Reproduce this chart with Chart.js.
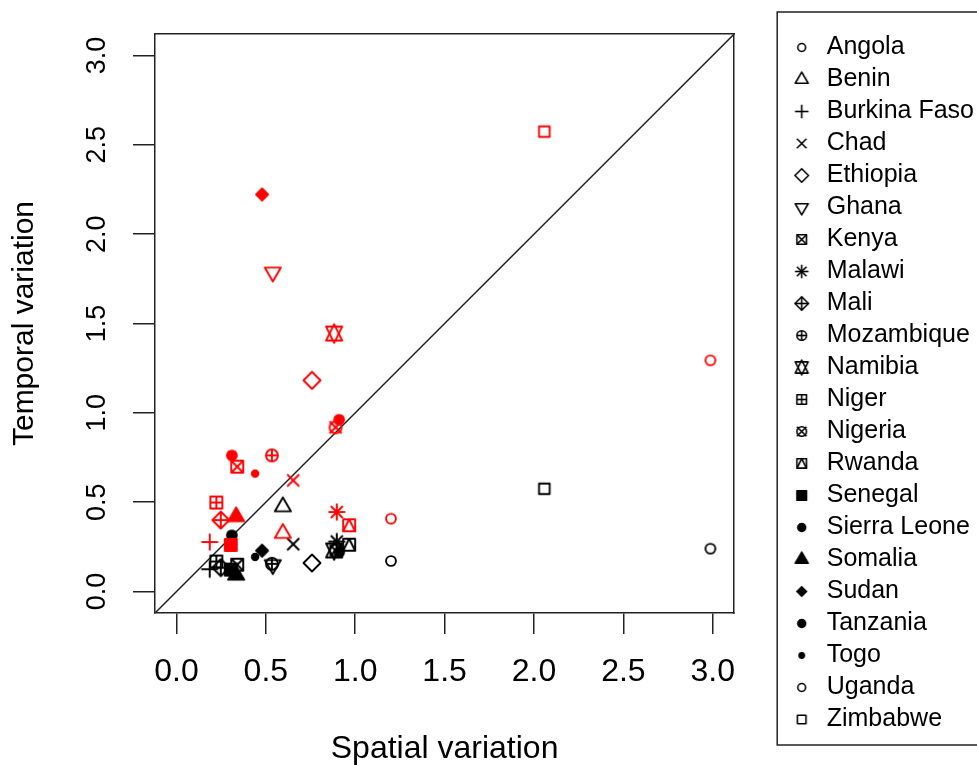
<!DOCTYPE html>
<html>
<head>
<meta charset="utf-8">
<script src="https://cdn.jsdelivr.net/npm/chart.js@4.4.1/dist/chart.umd.min.js"></script>
<style>
  html, body { margin: 0; padding: 0; background: #fff; overflow: hidden; }
  #wrap { width: 1000px; height: 765px; }
</style>
</head>
<body>
<div id="wrap"><canvas id="chart" width="1000" height="765"></canvas></div>
<script>
// values
const countries = ['Angola', 'Benin', 'Burkina Faso', 'Chad', 'Ethiopia', 'Ghana', 'Kenya', 'Malawi',
  'Mali', 'Mozambique', 'Namibia', 'Niger', 'Nigeria', 'Rwanda', 'Senegal', 'Sierra Leone',
  'Somalia', 'Sudan', 'Tanzania', 'Togo', 'Uganda', 'Zimbabwe'];
const spatial = [1.20, 0.595, 0.186, 0.653, 0.758, 0.539, 0.34, 0.897, 0.248, 0.534, 0.882,
  0.223, 0.89, 0.966, 0.304, 0.31, 0.334, 0.479, 0.91, 0.44, 2.987, 2.058];
const temporalRed = [0.408, 0.326, 0.277, 0.622, 1.182, 1.787, 0.699, 0.445, 0.400, 0.762, 1.444,
  0.498, 0.919, 0.371, 0.261, 0.762, 0.419, 2.222, 0.962, 0.660, 1.294, 2.574];
const temporalBlack = [0.171, 0.475, 0.125, 0.265, 0.160, 0.150, 0.150, 0.28, 0.134, 0.155, 0.23,
  0.168, 0.23, 0.262, 0.123, 0.315, 0.092, 0.229, 0.22, 0.194, 0.240, 0.575];
const axisTicks = [0, 0.5, 1, 1.5, 2, 2.5, 3];
const axisMin = -0.12, axisMax = 3.12;

const FONT = "'Liberation Sans', Arial, sans-serif";
const LINE = '#222';

// R plotting symbols (pch 1..22), one per country in legend order
const SQRC = 0.88622692545, TRC0 = 1.55512030155, TRC1 = TRC0 * Math.sqrt(3) / 2, TRC2 = TRC0 / 2;
function makeSymbol(pch, color, r, lw) {
  const size = Math.ceil(2 * (1.6 * r + lw)) + 2;
  const c = document.createElement('canvas');
  c.width = c.height = size;
  const g = c.getContext('2d');
  const m = size / 2;
  g.strokeStyle = color; g.fillStyle = color; g.lineWidth = lw; g.lineJoin = 'round';
  const line = (x1, y1, x2, y2) => { g.beginPath(); g.moveTo(m + x1, m + y1); g.lineTo(m + x2, m + y2); g.stroke(); };
  const poly = (pts, fill) => {
    g.beginPath();
    pts.forEach((p, i) => i ? g.lineTo(m + p[0], m + p[1]) : g.moveTo(m + p[0], m + p[1]));
    g.closePath(); if (fill) g.fill(); g.stroke();
  };
  const circ = (rad, fill) => { g.beginPath(); g.arc(m, m, rad, 0, Math.PI * 2); if (fill) g.fill(); g.stroke(); };
  const rect = (h, fill) => poly([[-h, -h], [h, -h], [h, h], [-h, h]], fill);
  const plus = a => { line(-a, 0, a, 0); line(0, -a, 0, a); };
  const cross = a => { line(-a, -a, a, a); line(-a, a, a, -a); };
  const triUp = fill => poly([[0, -TRC0 * r], [TRC1 * r, TRC2 * r], [-TRC1 * r, TRC2 * r]], fill);
  const triDown = fill => poly([[0, TRC0 * r], [TRC1 * r, -TRC2 * r], [-TRC1 * r, -TRC2 * r]], fill);
  const diamond = (a, fill) => poly([[0, -a], [a, 0], [0, a], [-a, 0]], fill);
  const cr = r * 0.82;
  switch (pch) {
    case 1: circ(cr); break;
    case 2: triUp(); break;
    case 3: plus(Math.SQRT2 * r); break;
    case 4: cross(r); break;
    case 5: diamond(Math.SQRT2 * r); break;
    case 6: triDown(); break;
    case 7: rect(r); cross(r); break;
    case 8: cross(r); plus(Math.SQRT2 * r); break;
    case 9: diamond(Math.SQRT2 * r); plus(Math.SQRT2 * r); break;
    case 10: circ(r); plus(r); break;
    case 11: {
      const yc = 0.5 * (TRC2 * r + TRC0 * r);
      poly([[0, -TRC0 * r], [TRC1 * r, yc], [-TRC1 * r, yc]]);
      poly([[0, TRC0 * r], [TRC1 * r, -yc], [-TRC1 * r, -yc]]);
      break;
    }
    case 12: rect(r); plus(r); break;
    case 13: circ(r); cross(r); break;
    case 14: rect(r); poly([[0, -r], [r, r], [-r, r]]); break;
    case 15: rect(r, true); break;
    case 16: circ(cr, true); break;
    case 17: triUp(true); break;
    case 18: diamond(r, true); break;
    case 19: circ(cr, true); break;
    case 20: circ(cr * 2 / 3, true); break;
    case 21: circ(cr); break;
    case 22: rect(r * SQRC); break;
  }
  return c;
}

const pchCodes = countries.map((_, i) => i + 1);
const redSymbols = pchCodes.map(p => makeSymbol(p, '#ff0000', 6, 1.9));
const blackSymbols = pchCodes.map(p => makeSymbol(p, '#000000', 6, 1.9));
const legendSymbols = pchCodes.map(p => makeSymbol(p, '#000000', 4.8, 1.6));

const datasets = countries.map((name, i) => ({
  label: name,
  data: [{ x: spatial[i], y: temporalBlack[i] }, { x: spatial[i], y: temporalRed[i] }],
  pointStyle: [blackSymbols[i], redSymbols[i]],
  pointRadius: 6,
  showLine: false
}));
datasets.push({
  type: 'line',
  label: 'diagonal',
  data: [{ x: axisMin, y: axisMin }, { x: axisMax, y: axisMax }],
  borderColor: LINE,
  borderWidth: 1.5,
  pointRadius: 0,
  fill: false
});

const legendFrame = {
  id: 'legendFrame',
  afterDraw(chart) {
    const lg = chart.legend;
    const hb = lg.legendHitBoxes;
    if (!hb || !hb.length) return;
    const last = hb[hb.length - 1];
    const top = hb[0].top - 23, bottom = last.top + last.height + 13;
    const ctx = chart.ctx;
    ctx.save();
    ctx.strokeStyle = LINE;
    ctx.lineWidth = 1.5;
    ctx.strokeRect(lg.left - 5, top, chart.width, bottom - top);
    ctx.restore();
  }
};

const setTicks = s => { s.ticks = axisTicks.map(v => ({ value: v })); };

new Chart(document.getElementById('chart'), {
  type: 'scatter',
  data: { datasets },
  options: {
    responsive: false,
    animation: false,
    devicePixelRatio: 1,
    layout: { padding: { top: 28, right: 16, bottom: 0, left: 0 } },
    plugins: {
      tooltip: { enabled: false },
      legend: {
        position: 'right',
        align: 'start',
        maxWidth: 400,
        labels: {
          usePointStyle: true,
          padding: 7,
          color: '#000',
          font: { family: FONT, size: 25 },
          generateLabels: () => countries.map((name, i) => ({
            text: name,
            pointStyle: legendSymbols[i],
            fillStyle: '#000',
            strokeStyle: '#000',
            lineWidth: 0,
            fontColor: '#000',
            hidden: false,
            datasetIndex: i
          }))
        }
      }
    },
    scales: {
      x: {
        type: 'linear', position: 'bottom', min: axisMin, max: axisMax,
        afterBuildTicks: setTicks,
        afterFit: s => { s.height = 152; },
        grid: { drawOnChartArea: false, tickLength: 21, color: LINE, lineWidth: 1.5 },
        border: { color: LINE, width: 1.5 },
        ticks: { padding: 19, color: '#000', font: { family: FONT, size: 32 }, maxRotation: 0,
          callback: v => v.toFixed(1) },
        title: { display: true, text: 'Spatial variation', color: '#000',
          font: { family: FONT, size: 32, lineHeight: 1 }, padding: { top: 0, bottom: 0 } }
      },
      y: {
        type: 'linear', position: 'left', min: axisMin, max: axisMax,
        afterBuildTicks: setTicks,
        afterFit: s => { s.width = 155; },
        grid: { drawOnChartArea: false, tickLength: 22, color: LINE, lineWidth: 1.5 },
        border: { color: LINE, width: 1.5 },
        ticks: { padding: 17, color: '#000', font: { family: FONT, size: 27 }, minRotation: 90, maxRotation: 90,
          crossAlign: 'center', callback: v => v.toFixed(1) },
        title: { display: true, text: 'Temporal variation', color: '#000',
          font: { family: FONT, size: 30, lineHeight: 1 }, padding: { top: 10, bottom: 0 } }
      },
      // empty axes closing the plot box on top and right
      x2: {
        type: 'linear', position: 'top', display: true, min: axisMin, max: axisMax,
        afterFit: s => { s.height = 6; },
        grid: { display: false, drawTicks: false },
        border: { color: LINE, width: 1.5 },
        ticks: { display: false }
      },
      y2: {
        type: 'linear', position: 'right', display: true, min: axisMin, max: axisMax,
        afterFit: s => { s.width = 48; },
        grid: { display: false, drawTicks: false },
        border: { color: LINE, width: 1.5 },
        ticks: { display: false }
      }
    }
  },
  plugins: [legendFrame]
});
</script>
</body>
</html>
